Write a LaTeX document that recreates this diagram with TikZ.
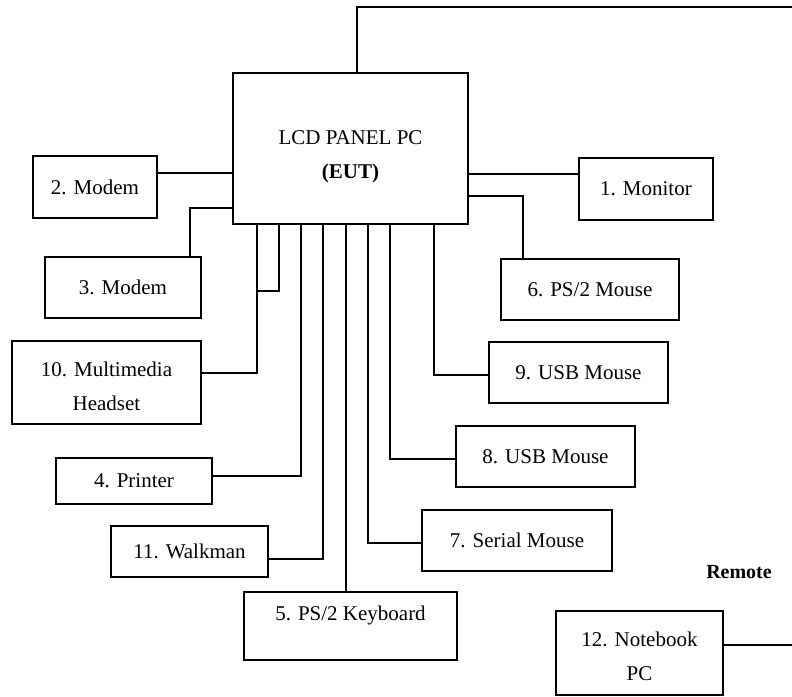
\documentclass[tikz,border=0pt]{standalone}
\usepackage{fontspec}
\setmainfont{Liberation Serif}
\begin{document}
\begin{tikzpicture}[x=1pt,y=-1pt,line width=1.5pt]
	\tikzstyle{devbox}
	  =[draw, rectangle, outer sep=0pt, inner sep=0pt, align=center, font=\fontsize{21}{34}\selectfont]
	\tikzstyle{lbl}
	  =[font=\fontsize{20}{24}\selectfont\bfseries]

	\useasboundingbox (0,0) rectangle (792,696);

	\node[devbox,minimum width=235pt,minimum height=151pt] (eut)
	  at (350.5,148.5) {\mbox{}\\[-4pt]LCD PANEL PC\\\textbf{(EUT)}};

	\node[devbox,minimum width=124pt,minimum height=62pt] (modem2)
	  at (95,187) {2. Modem};
	\node[devbox,minimum width=156pt,minimum height=61pt] (modem3)
	  at (123,287.5) {3. Modem};
	\node[devbox,minimum width=189pt,minimum height=83pt] (headset)
	  at (106.5,382.5) {\mbox{}\\[-12pt]10. Multimedia\\Headset};
	\node[devbox,minimum width=156pt,minimum height=46pt] (printer)
	  at (134,481) {4. Printer};
	\node[devbox,minimum width=157pt,minimum height=51pt] (walkman)
	  at (189.5,551.5) {11. Walkman};
	\node[devbox,minimum width=213pt,minimum height=68pt] (keyboard)
	  at (350.5,626) {5. PS/2 Keyboard\\[-8pt]\phantom{x}};

	\node[devbox,minimum width=134pt,minimum height=62pt] (monitor)
	  at (646,189) {1. Monitor};
	\node[devbox,minimum width=178pt,minimum height=61pt] (ps2mouse)
	  at (590,289.5) {6. PS/2 Mouse};
	\node[devbox,minimum width=179pt,minimum height=61pt] (usbmouse9)
	  at (578.5,372.5) {9. USB Mouse};
	\node[devbox,minimum width=179pt,minimum height=61pt] (usbmouse8)
	  at (545.5,456.5) {8. USB Mouse};
	\node[devbox,minimum width=190pt,minimum height=61pt] (serial)
	  at (517,540.5) {7. Serial Mouse};

	\node[lbl] (remote)
	  at (739,572) {Remote};
	\node[devbox,minimum width=167pt,minimum height=84pt] (notebook)
	  at (639.5,653) {\mbox{}\\[-12pt]12. Notebook\\PC};

	% ports on the EUT
	\coordinate (top) at (357,73);
	\coordinate (lan) at (792,7);
	\coordinate (lanb) at (792,645);
	\coordinate (left1) at (233,173);
	\coordinate (left2) at (233,208);
	\coordinate (right1) at (468,174);
	\coordinate (right2) at (468,196);
	\coordinate (bot1) at (257,224);
	\coordinate (bot2) at (279,224);
	\coordinate (join) at (257,291);
	\coordinate (bot3) at (301,224);
	\coordinate (bot4) at (323,224);
	\coordinate (bot5) at (346,224);
	\coordinate (bot6) at (368,224);
	\coordinate (bot7) at (390,224);
	\coordinate (bot8) at (434,224);

	\draw[-] (top) |- (lan);
	\draw[-] ([yshift=8pt]notebook.east) -- (lanb);

	\draw[-] (left1) -- (left1 -| modem2.east);
	\draw[-] (left2) -| ([xshift=67pt]modem3.north);
	\draw[-] (right1) -- (right1 -| monitor.west);
	\draw[-] (right2) -| ([xshift=-67pt]ps2mouse.north);

	\draw[-] (bot1) |- ([yshift=9.5pt]headset.east);
	\draw[-] (bot2) |- (join);
	\draw[-] (bot3) |- ([yshift=5pt]printer.east);
	\draw[-] (bot4) |- ([yshift=-7.5pt]walkman.east);
	\draw[-] (bot5) -- (bot5 |- keyboard.north);
	\draw[-] (bot6) |- ([yshift=-2.5pt]serial.west);
	\draw[-] (bot7) |- ([yshift=-2.5pt]usbmouse8.west);
	\draw[-] (bot8) |- ([yshift=-2.5pt]usbmouse9.west);
\end{tikzpicture}
\end{document}
